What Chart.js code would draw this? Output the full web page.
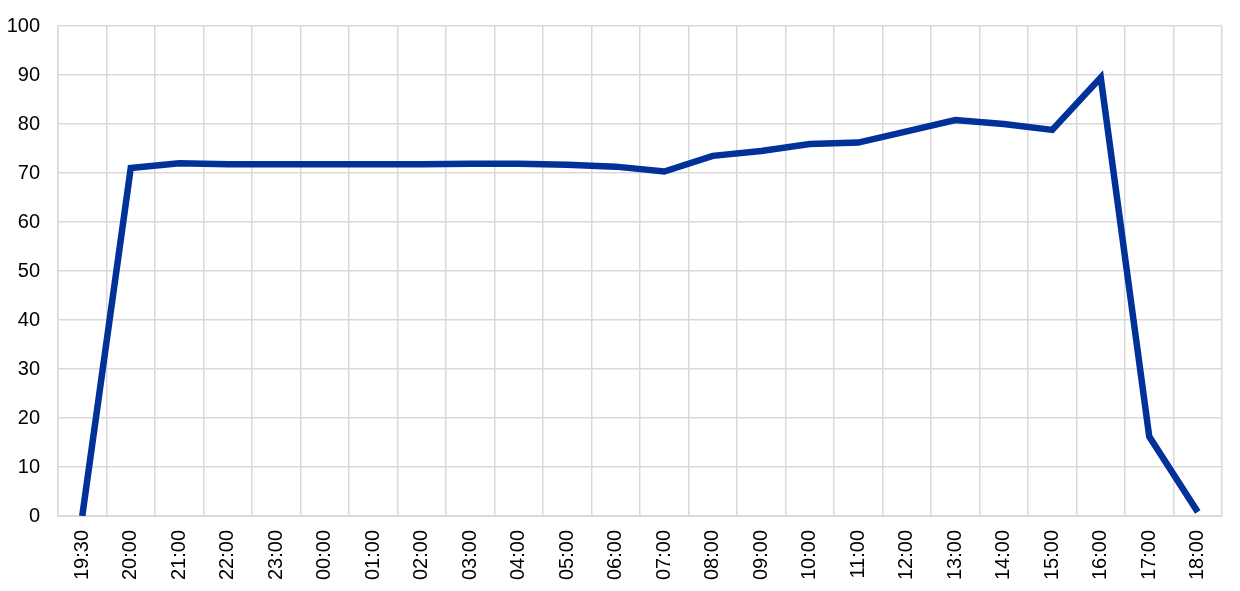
<!DOCTYPE html>
<html>
<head>
<meta charset="utf-8">
<script src="https://cdn.jsdelivr.net/npm/chart.js@4/dist/chart.umd.min.js"></script>
<style>
  html, body { margin: 0; padding: 0; background: #fff; }
  #wrap { width: 1240px; height: 591px; }
</style>
</head>
<body>
<div id="wrap"><canvas id="lineChart" width="1240" height="591"></canvas></div>
<script>
const timeLabels = ['19:30', '20:00', '21:00', '22:00', '23:00', '00:00', '01:00', '02:00',
    '03:00', '04:00', '05:00', '06:00', '07:00', '08:00', '09:00', '10:00', '11:00',
    '12:00', '13:00', '14:00', '15:00', '16:00', '17:00', '18:00'];
const seriesValues = [0, 71, 72, 71.8, 71.8, 71.8, 71.8, 71.8, 71.9, 71.9, 71.7, 71.3,
    70.3, 73.5, 74.5, 75.9, 76.2, 78.5, 80.8, 80.0, 78.8, 89.5, 16.2, 0.8];
const yTicks = { min: 0, max: 100, step: 10 };

document.addEventListener("DOMContentLoaded", function () {
    const ctx = document.getElementById('lineChart').getContext('2d');
    const gridColor = '#d9d9d9';

    new Chart(ctx, {
        type: 'line',
        data: {
            labels: timeLabels,
            datasets: [{
                data: seriesValues,
                borderColor: '#003299',
                borderWidth: 6.5,
                pointRadius: 0,
                tension: 0,
                fill: false
            }]
        },
        options: {
            responsive: false,
            animation: false,
            layout: { padding: { left: 0, right: 18, top: 26, bottom: 0 } },
            plugins: {
                legend: { display: false },
                tooltip: { enabled: false }
            },
            scales: {
                x: {
                    offset: true,
                    grid: { offset: true, color: gridColor, lineWidth: 1.5, drawTicks: false },
                    border: { color: gridColor, width: 2 },
                    ticks: {
                        color: '#000',
                        font: { family: 'Liberation Sans', size: 20 },
                        minRotation: 90,
                        maxRotation: 90,
                        autoSkip: false,
                        padding: 14
                    },
                    afterFit: function (scale) { scale.height = 75; }
                },
                y: {
                    min: yTicks.min,
                    max: yTicks.max,
                    grid: { color: gridColor, lineWidth: 1.5, drawTicks: false },
                    border: { color: gridColor, width: 1.5 },
                    ticks: {
                        stepSize: yTicks.step,
                        color: '#000',
                        font: { family: 'Liberation Sans', size: 20 },
                        padding: 18
                    },
                    afterFit: function (scale) {
                        scale.width = 58;
                        // tick padding would otherwise push the plot top down
                        scale.paddingTop = 0;
                        scale.paddingBottom = 0;
                    }
                }
            }
        }
    });
});
</script>
</body>
</html>
